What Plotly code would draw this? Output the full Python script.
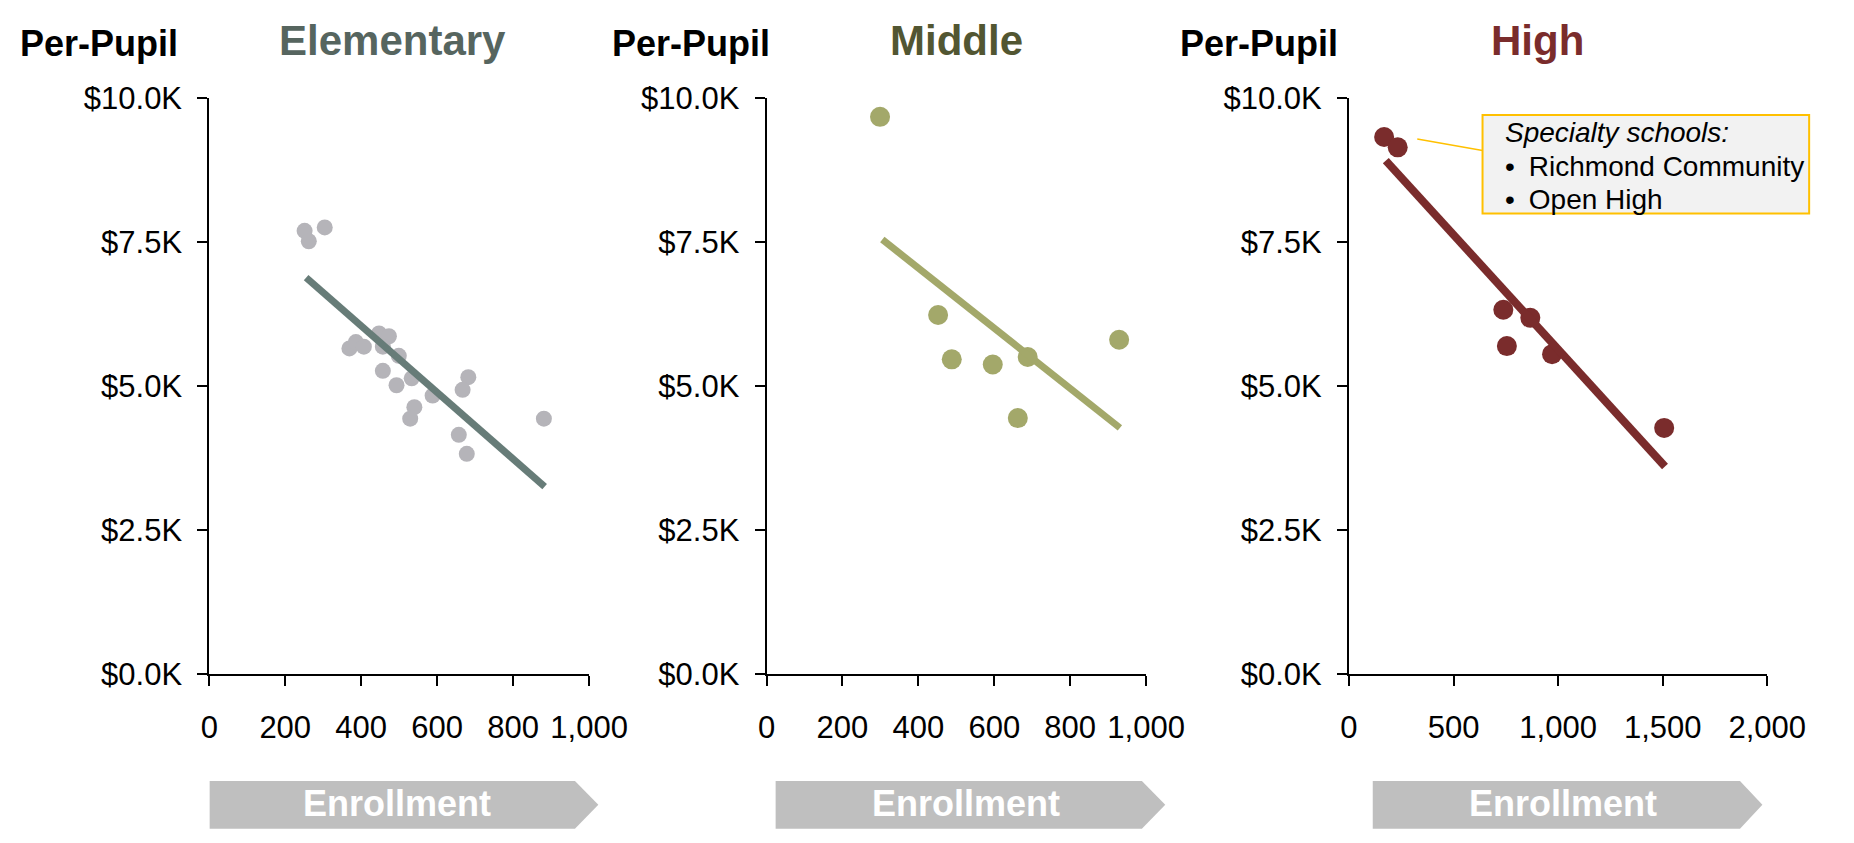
import plotly.graph_objects as go

# ---- data -------------------------------------------------------------
elem_enroll = [251, 262, 304, 369, 386, 407, 447, 473, 457, 499, 457, 493,
               533, 588, 682, 667, 540, 529, 657, 678, 881]
elem_pp = [7690, 7510, 7750, 5650, 5760, 5680, 5910, 5860, 5680, 5520, 5260, 5010,
           5130, 4830, 5150, 4930, 4630, 4430, 4150, 3820, 4430]
elem_trend_x = [255, 883]
elem_trend_y = [6880, 3250]

mid_enroll = [299, 452, 488, 596, 688, 929, 662]
mid_pp = [9670, 6230, 5460, 5370, 5500, 5800, 4440]
mid_trend_x = [305, 931]
mid_trend_y = [7540, 4270]

high_enroll = [168, 233, 738, 867, 755, 971, 1507]
high_pp = [9320, 9140, 6320, 6180, 5690, 5550, 4270]
high_trend_x = [176, 1511]
high_trend_y = [8910, 3600]

panel_titles = ["Elementary", "Middle", "High"]
y_tickvals = [0, 2500, 5000, 7500, 10000]
y_ticktext = ["$0.0K", "$2.5K", "$5.0K", "$7.5K", "$10.0K"]
x_tickvals_small = [0, 200, 400, 600, 800, 1000]
x_ticktext_small = ["0", "200", "400", "600", "800", "1,000"]
x_tickvals_large = [0, 500, 1000, 1500, 2000]
x_ticktext_large = ["0", "500", "1,000", "1,500", "2,000"]
callout_lines = ["Specialty schools:", "Richmond Community", "Open High"]

# ---- styling ----------------------------------------------------------
W, H = 1854, 843
FONT = "Liberation Sans, Arial, Helvetica, sans-serif"
TITLE_COLORS = ["#56655f", "#525632", "#7a2c2c"]
POINT_COLORS = ["#b5b4b9", "#a3a86a", "#7a2c2c"]
LINE_COLORS = ["#677c78", "#a3a86a", "#7a2c2c"]
POINT_SIZES = [16, 20, 20]
LINE_WIDTHS = [7, 7, 8]
GOLD = "#ffc000"
ARROW_GREY = "#bfbfbf"


def px(x):
    return x / W


def py(y):
    return 1 - y / H


# panel geometry in pixels
x_domains = [(205.6, 595.5), (777.7, 1167.3), (1375.6, 1805.0)]
y_top, y_bot = 84.3, 685.3

fig = go.Figure()

series = [
    (elem_enroll, elem_pp, elem_trend_x, elem_trend_y),
    (mid_enroll, mid_pp, mid_trend_x, mid_trend_y),
    (high_enroll, high_pp, high_trend_x, high_trend_y),
]

for i, (ex, ey, tx, ty) in enumerate(series):
    xa = "x" if i == 0 else f"x{i + 1}"
    ya = "y" if i == 0 else f"y{i + 1}"
    fig.add_trace(go.Scatter(
        x=ex, y=ey, mode="markers", xaxis=xa, yaxis=ya,
        marker=dict(size=POINT_SIZES[i], color=POINT_COLORS[i], line=dict(width=0)),
        showlegend=False, hoverinfo="x+y",
    ))
    fig.add_trace(go.Scatter(
        x=tx, y=ty, mode="lines", xaxis=xa, yaxis=ya,
        line=dict(color=LINE_COLORS[i], width=LINE_WIDTHS[i]),
        showlegend=False, hoverinfo="skip",
    ))

axis_common = dict(
    showline=True, linecolor="black", linewidth=2,
    ticks="outside", ticklen=10, tickwidth=2, tickcolor="black",
    showgrid=False, zeroline=False, fixedrange=True,
    tickfont=dict(family=FONT, size=31, color="black"),
)

layout_axes = {}
for i in range(3):
    sfx = "" if i == 0 else str(i + 1)
    x0, x1 = x_domains[i]
    if i < 2:
        tv, tt, rng = x_tickvals_small, x_ticktext_small, [0, 1000]
    else:
        tv, tt, rng = x_tickvals_large, x_ticktext_large, [0, 2000]
    layout_axes[f"xaxis{sfx}"] = dict(
        axis_common, domain=[px(x0), px(x1)], range=rng,
        tickvals=tv, ticktext=tt, anchor=f"y{sfx}", ticklabelstandoff=15,
    )
    layout_axes[f"yaxis{sfx}"] = dict(
        axis_common, domain=[py(y_bot), py(y_top)], range=[0, 10000],
        tickvals=y_tickvals, ticktext=y_ticktext, anchor=f"x{sfx}",
        ticklabelstandoff=9,
    )

fig.update_layout(**layout_axes)

annotations = []
shapes = []

# headers above each panel
per_pupil_right = [176, 783, 1366]
title_centres = [393.5, 973, 1569]
arrow_spans = [(206, 581, 605), (787, 1163, 1187), (1400, 1777, 1800)]
arrow_text_centres = [398, 982, 1595]

for i in range(3):
    annotations.append(dict(
        text="<b>Per-Pupil</b>", x=px(per_pupil_right[i]), y=py(28),
        xref="paper", yref="paper", xanchor="right", yanchor="middle",
        showarrow=False, font=dict(family=FONT, size=36, color="black"),
    ))
    annotations.append(dict(
        text=f"<b>{panel_titles[i]}</b>", x=px(title_centres[i]), y=py(24.5),
        xref="paper", yref="paper", xanchor="center", yanchor="middle",
        showarrow=False, font=dict(family=FONT, size=42, color=TITLE_COLORS[i]),
    ))
    # chevron-shaped "Enrollment" banner under each x axis
    a0, a1, tip = arrow_spans[i]
    top, mid, bot = 797, 822, 847
    path = (f"M {px(a0)},{py(top)} L {px(a1)},{py(top)} L {px(tip)},{py(mid)} "
            f"L {px(a1)},{py(bot)} L {px(a0)},{py(bot)} Z")
    shapes.append(dict(type="path", path=path, xref="paper", yref="paper",
                       fillcolor=ARROW_GREY, line=dict(width=0), layer="below"))
    annotations.append(dict(
        text="<b>Enrollment</b>", x=px(arrow_text_centres[i]), y=py(821),
        xref="paper", yref="paper", xanchor="center", yanchor="middle",
        showarrow=False, font=dict(family=FONT, size=36, color="white"),
    ))

# specialty-school callout in the High panel
shapes.append(dict(type="line", xref="paper", yref="paper",
                   x0=px(1445.7), y0=py(127.3), x1=px(1512.7), y1=py(139.3),
                   line=dict(color=GOLD, width=1.5)))
shapes.append(dict(type="rect", xref="paper", yref="paper",
                   x0=px(1512.7), y0=py(205), x1=px(1848), y1=py(102.3),
                   fillcolor="#f2f2f2", line=dict(color=GOLD, width=2)))
callout_y = [120, 155.5, 190]
for j, line in enumerate(callout_lines):
    txt = f"<i>{line}</i>" if j == 0 else f"•\u2002{line}"
    annotations.append(dict(
        text=txt, x=px(1534), y=py(callout_y[j]),
        xref="paper", yref="paper", xanchor="left", yanchor="middle",
        showarrow=False, font=dict(family=FONT, size=28, color="black"),
    ))

fig.update_layout(
    width=W, height=H,
    margin=dict(l=0, r=0, t=0, b=0),
    paper_bgcolor="white", plot_bgcolor="white",
    annotations=annotations, shapes=shapes,
    showlegend=False,
)

fig.write_html("out.html")
